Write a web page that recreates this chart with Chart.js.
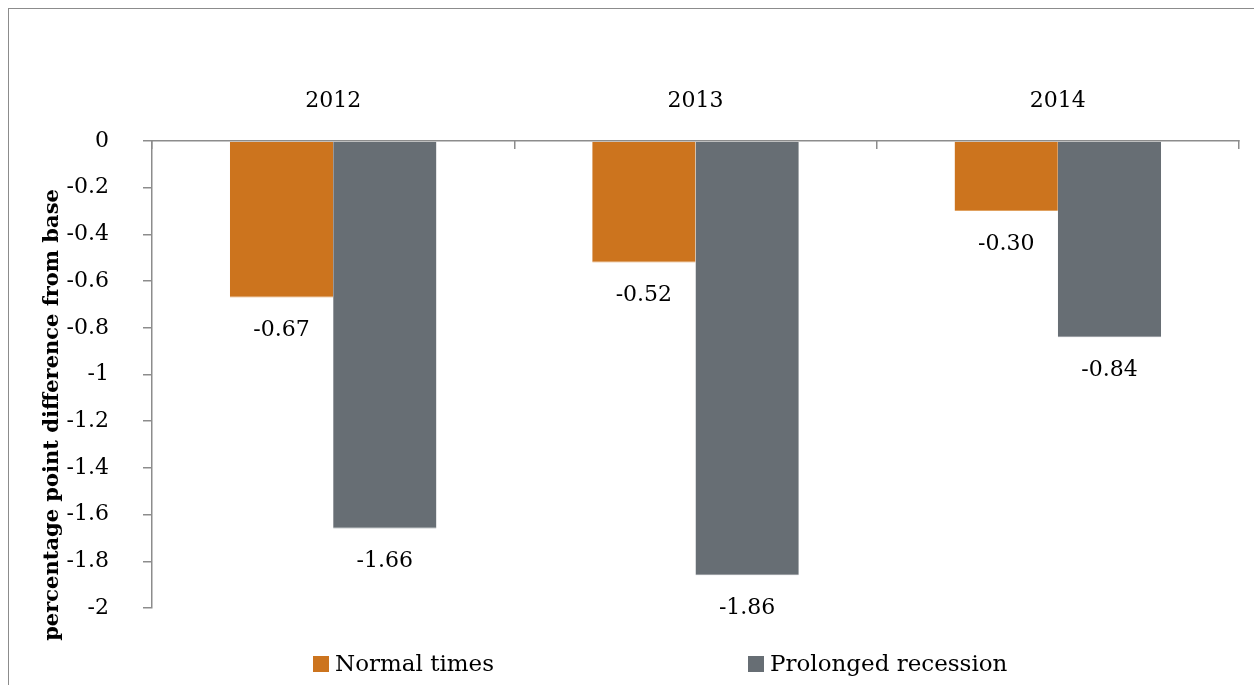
<!DOCTYPE html>
<html>
<head>
<meta charset="utf-8">
<script src="https://cdn.jsdelivr.net/npm/chart.js@4"></script>
<style>
  html, body { margin: 0; padding: 0; background: #fff; overflow: hidden; }
  #frame { position: absolute; left: 8px; top: 8px; width: 1260px; height: 700px; border: 1.5px solid #8c8c8c; }
  #wrap { position: absolute; left: 0; top: 0; width: 1254px; height: 685px; }
</style>
</head>
<body>
<div id="frame"></div>
<div id="wrap"><canvas id="barChart"></canvas></div>
<script>
// data
const years = ["2012", "2013", "2014"];
const normalTimes = [-0.67, -0.52, -0.30];
const prolongedRecession = [-1.66, -1.86, -0.84];
const seriesNames = ["Normal times", "Prolonged recession"];
const yTitle = "percentage point difference from base";

const FONT = "'DejaVu Serif', serif";

// labels under each bar + rotated y title + legend at the bottom
const extrasPlugin = {
  id: "extras",
  afterDatasetsDraw(chart) {
    const ctx = chart.ctx;
    ctx.save();
    ctx.fillStyle = "#000";
    ctx.font = "22px " + FONT;
    ctx.textAlign = "center";
    ctx.textBaseline = "middle";
    chart.data.datasets.forEach((ds, i) => {
      chart.getDatasetMeta(i).data.forEach((bar, j) => {
        ctx.fillText(ds.data[j].toFixed(2), bar.x, bar.y + 33);
      });
    });

    // y title
    ctx.save();
    ctx.translate(53, 415);
    ctx.rotate(-Math.PI / 2);
    ctx.font = "bold 21px " + FONT;
    ctx.fillText(yTitle, 0, 0);
    ctx.restore();

    // legend
    const legendX = [313, 748];
    const legendY = 664;
    ctx.textAlign = "left";
    chart.data.datasets.forEach((ds, i) => {
      ctx.fillStyle = ds.backgroundColor;
      ctx.fillRect(legendX[i], legendY - 8, 16, 16);
      ctx.fillStyle = "#000";
      ctx.font = "23px " + FONT;
      ctx.fillText(ds.label, legendX[i] + 22, legendY + 1);
    });
    ctx.restore();
  }
};

const ctx = document.getElementById("barChart").getContext("2d");

new Chart(ctx, {
  type: "bar",
  data: {
    labels: years,
    datasets: [
      {
        label: seriesNames[0],
        data: normalTimes,
        backgroundColor: "#cc741e",
        borderColor: "#e0a160",
        borderWidth: { top: 0, left: 0, right: 0, bottom: 1 },
        borderSkipped: false,
      },
      {
        label: seriesNames[1],
        data: prolongedRecession,
        backgroundColor: "#676e74",
        borderColor: "#8d9398",
        borderWidth: { top: 0, left: 0, right: 0, bottom: 1 },
        borderSkipped: false,
      },
    ],
  },
  options: {
    responsive: true,
    maintainAspectRatio: false,
    animation: false,
    layout: { padding: { left: 0, right: 15, top: 0, bottom: 77 } },
    datasets: {
      bar: { barPercentage: 1, categoryPercentage: 0.57 },
    },
    plugins: {
      legend: { display: false },
      tooltip: { enabled: false },
    },
    scales: {
      x: {
        position: "top",
        afterFit: (scale) => { scale.height = 141; },
        grid: {
          offset: true,
          drawOnChartArea: false,
          color: "#8c8c8c",
          lineWidth: 1.5,
          tickLength: -8,
        },
        border: { color: "#8c8c8c", width: 1.5 },
        ticks: {
          color: "#000",
          font: { family: FONT, size: 22 },
          padding: 35,
        },
      },
      y: {
        min: -2,
        max: 0,
        afterFit: (scale) => { scale.width = 152; },
        grid: {
          drawOnChartArea: false,
          color: "#8c8c8c",
          lineWidth: 1.5,
          tickLength: 9,
        },
        border: { color: "#8c8c8c", width: 1.5 },
        ticks: {
          stepSize: 0.2,
          color: "#000",
          font: { family: FONT, size: 22 },
          padding: 34,
          callback: (v) => String(Number(v.toFixed(1))),
        },
      },
    },
  },
  plugins: [extrasPlugin],
});
</script>
</body>
</html>
